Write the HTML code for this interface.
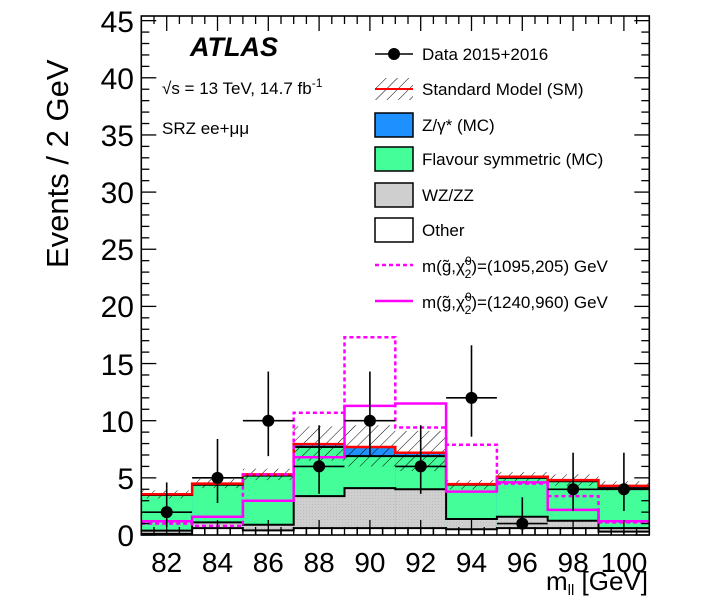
<!DOCTYPE html>
<html><head><meta charset="utf-8"><style>
html,body{margin:0;padding:0;background:#fff;}
svg{display:block;font-family:"Liberation Sans",sans-serif;}
</style></head><body>
<svg id="s" width="703" height="612" viewBox="0 0 703 612" xmlns="http://www.w3.org/2000/svg">
<defs>
<pattern id="h" patternUnits="userSpaceOnUse" width="8" height="8" patternTransform="rotate(45)">
<line x1="0" y1="0" x2="0" y2="8" stroke="#000" stroke-width="1"/>
</pattern>
<pattern id="dots" patternUnits="userSpaceOnUse" width="3" height="3"><rect width="3" height="3" fill="#cfcfcf"/><rect width="1" height="1" fill="#bdbdbd"/></pattern>
</defs>
<g id="plot"></g>
<text x="190" y="56" font-size="27" font-weight="bold" font-style="italic">ATLAS</text>
<text x="162" y="94" font-size="17">√s = 13 TeV, 14.7 fb<tspan dy="-7" font-size="12">-1</tspan></text>
<text x="162" y="134" font-size="17">SRZ ee+μμ</text>
<g font-size="17">
<text x="422" y="60">Data 2015+2016</text>
<text x="422" y="95">Standard Model (SM)</text>
<text x="422" y="131">Z/γ* (MC)</text>
<text x="422" y="165">Flavour symmetric (MC)</text>
<text x="422" y="201">WZ/ZZ</text>
<text x="422" y="236">Other</text>
<text x="422" y="272">m(g̃,χ̃<tspan dy="-7" font-size="12">0</tspan><tspan dy="13" dx="-7" font-size="12">2</tspan><tspan dy="-6">)=(1095,205) GeV</tspan></text>
<text x="422" y="308">m(g̃,χ̃<tspan dy="-7" font-size="12">0</tspan><tspan dy="13" dx="-7" font-size="12">2</tspan><tspan dy="-6">)=(1240,960) GeV</tspan></text>
</g>
<g font-size="30" text-anchor="end">
<text x="134" y="546">0</text><text x="134" y="489">5</text><text x="134" y="432">10</text>
<text x="134" y="375">15</text><text x="134" y="317">20</text><text x="134" y="260">25</text>
<text x="134" y="203">30</text><text x="134" y="146">35</text><text x="134" y="89">40</text><text x="134" y="32">45</text>
</g>
<g font-size="28" text-anchor="middle">
<text x="166.7" y="572">82</text><text x="217.5" y="572">84</text><text x="268.3" y="572">86</text>
<text x="319.1" y="572">88</text><text x="369.9" y="572">90</text><text x="420.7" y="572">92</text>
<text x="471.5" y="572">94</text><text x="522.3" y="572">96</text><text x="573.1" y="572">98</text><text x="624" y="572">100</text>
</g>
<text x="648" y="590" font-size="26" text-anchor="end">m<tspan font-size="15" dy="5">ll</tspan><tspan dy="-5"> [GeV]</tspan></text>
<text transform="translate(68,268) rotate(-90)" font-size="31" text-anchor="start">Events / 2 GeV</text>
</svg>
<script>
(function(){
const NS="http://www.w3.org/2000/svg";
const g=document.getElementById('plot');
function el(t,a){const e=document.createElementNS(NS,t);for(const k in a)e.setAttribute(k,a[k]);g.appendChild(e);return e;}
const X0=141.3,XW=25.4,Y0=535,YS=11.43;
const X=v=>X0+(v-81)*XW, Y=v=>Y0-v*YS;
const edges=[];for(let i=0;i<=10;i++)edges.push(81+2*i);
const oth=[0.1,0.6,0.4,0.6,0.6,0.6,0.5,0.6,0.6,0.3];
const wz=[0.38,1.1,0.9,3.4,4.1,4.0,1.4,1.6,1.25,0.6];
const fs=[3.5,4.4,5.2,7.7,6.9,6.9,4.4,5.0,4.7,4.1];
const sm=[3.56,4.5,5.3,7.95,7.7,7.2,4.45,5.1,4.8,4.3];
const hu=[3.9,4.9,5.8,9.5,9.6,9.1,4.8,5.5,5.3,4.7];
const hd=[3.2,4.1,4.8,6.5,6.0,5.6,4.0,4.6,4.3,3.9];
const dash=[1.0,0.8,5.3,10.7,17.3,9.4,7.9,4.5,3.4,1.1];
const sol=[1.2,1.6,3.0,6.8,11.3,11.5,3.8,4.6,2.2,1.2];
const data=[2,5,10,6,10,6,12,1,4,4];
const eu={1:2.3,2:2.6,4:3.2,5:3.4,6:3.6,10:4.3,12:4.6};
const ed={1:0.8,2:1.3,4:1.9,5:2.2,6:2.4,10:3.1,12:3.4};
for(let i=0;i<10;i++){
 const x=X(edges[i]),w=XW*2;
 el('rect',{x,y:Y(sm[i]),width:w,height:sm[i]*YS,fill:'#1e90ff'});
 el('rect',{x,y:Y(fs[i]),width:w,height:fs[i]*YS,fill:'#44ff99'});
 el('rect',{x,y:Y(wz[i]),width:w,height:wz[i]*YS,fill:'url(#dots)'});
 el('rect',{x,y:Y(oth[i]),width:w,height:oth[i]*YS,fill:'#fff'});
 for(let k=1;k<4;k++)el('line',{x1:x+k*w/4,x2:x+k*w/4,y1:Y(oth[i]),y2:Y0,stroke:'#000','stroke-width':1.5});
}
function step(arr,attrs){let d='';for(let i=0;i<10;i++){d+=(i?'L':'M')+X(edges[i])+','+Y(arr[i])+'L'+X(edges[i+1])+','+Y(arr[i]);}return el('path',Object.assign({d,fill:'none'},attrs));}
step(oth,{stroke:'#000','stroke-width':2});
step(wz,{stroke:'#000','stroke-width':2});
step(fs,{stroke:'#000','stroke-width':2});
for(let i=0;i<10;i++){el('rect',{x:X(edges[i]),y:Y(hu[i]),width:XW*2,height:(hu[i]-hd[i])*YS,fill:'url(#h)'});}
step(sm,{stroke:'#ff0000','stroke-width':2.5});
step(dash,{stroke:'#ff00ff','stroke-width':2.5,'stroke-dasharray':'4,3'});
step(sol,{stroke:'#ff00ff','stroke-width':2.5});
for(let i=0;i<10;i++){const cx=X(edges[i])+XW,v=data[i];
 el('line',{x1:X(edges[i]),x2:X(edges[i+1]),y1:Y(v),y2:Y(v),stroke:'#000','stroke-width':1.6});
 el('line',{x1:cx,x2:cx,y1:Y(v+eu[v]),y2:Y(v-ed[v]),stroke:'#000','stroke-width':1.6});
 el('circle',{cx,cy:Y(v),r:6,fill:'#000'});}
const T=16,R=649.3;
el('rect',{x:X0,y:T,width:R-X0,height:Y0-T,fill:'none',stroke:'#000','stroke-width':1.6});
for(let v=0;v<=45;v++){const L=v%5?8:15,y=Y(v);
 el('line',{x1:X0,x2:X0+L,y1:y,y2:y,stroke:'#000','stroke-width':1.3});
 el('line',{x1:R-L,x2:R,y1:y,y2:y,stroke:'#000','stroke-width':1.3});}
for(let v=81;v<=101;v+=0.5){const L=(v%2==0)?15:8,x=X(v);
 el('line',{x1:x,x2:x,y1:Y0,y2:Y0-L,stroke:'#000','stroke-width':1.3});
 el('line',{x1:x,x2:x,y1:T,y2:T+L,stroke:'#000','stroke-width':1.3});}
const lx=375,lw=38;
const rows=[54,89,125,159,195,230,265,301];
el('line',{x1:lx,x2:lx+lw,y1:rows[0],y2:rows[0],stroke:'#000','stroke-width':1.6});
el('circle',{cx:lx+lw/2,cy:rows[0],r:6,fill:'#000'});
el('rect',{x:lx,y:rows[1]-11,width:lw,height:22,fill:'url(#h)'});
el('line',{x1:lx,x2:lx+lw,y1:rows[1],y2:rows[1],stroke:'#f00','stroke-width':2});
const fills=['#1e90ff','#44ff99','#cfcfcf','#fff'];
for(let k=0;k<4;k++)el('rect',{x:lx,y:rows[2+k]-12,width:lw,height:24,fill:fills[k],stroke:'#000','stroke-width':1.5});
el('line',{x1:lx,x2:lx+lw,y1:rows[6],y2:rows[6],stroke:'#f0f','stroke-width':2.5,'stroke-dasharray':'4,3'});
el('line',{x1:lx,x2:lx+lw,y1:rows[7],y2:rows[7],stroke:'#f0f','stroke-width':2.5});
})();
</script>
</body></html>
